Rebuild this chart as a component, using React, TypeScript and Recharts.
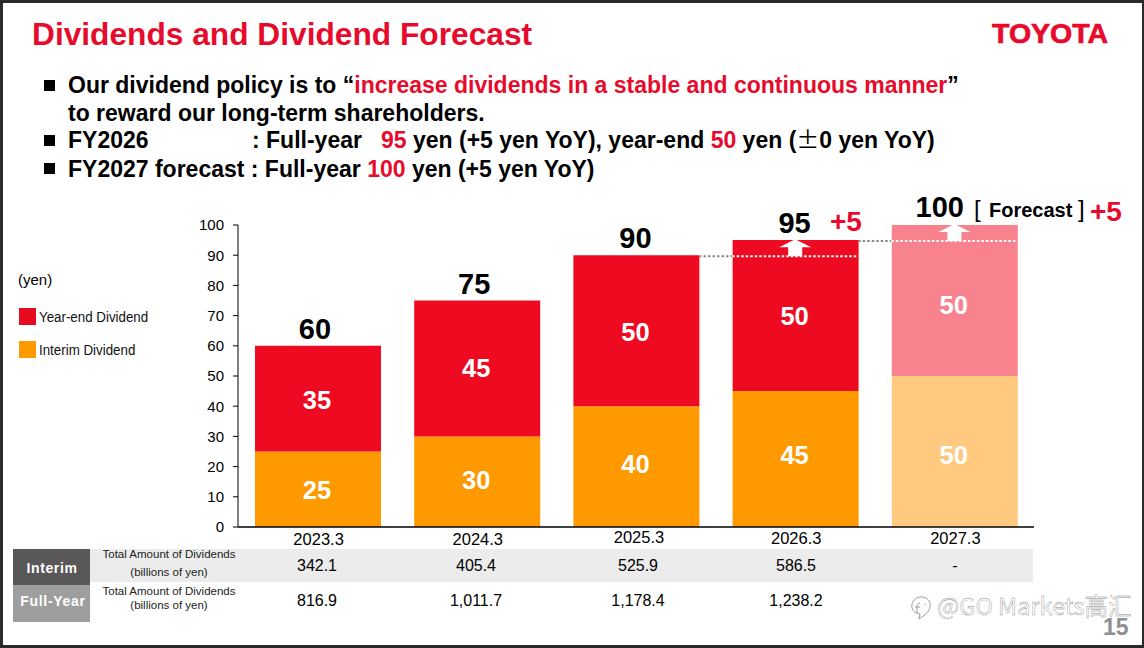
import React from "react";
import { BarChart, Bar, XAxis, YAxis, Cell, LabelList, Legend, ReferenceLine, ReferenceDot } from "recharts";

const categories = ["2023.3", "2024.3", "2025.3", "2026.3", "2027.3"];
const interim = [25, 30, 40, 45, 50];
const yearEnd = [35, 45, 50, 50, 50];
const totals = [60, 75, 90, 95, 100];
const yTicks = [0, 10, 20, 30, 40, 50, 60, 70, 80, 90, 100];
const interimAmounts = ["342.1", "405.4", "525.9", "586.5", "-"];
const fullYearAmounts = ["816.9", "1,011.7", "1,178.4", "1,238.2", ""];

const chartData = categories.map((year, i) => ({
  year,
  interim: interim[i],
  yearEnd: yearEnd[i],
  total: totals[i],
}));

const FONT = "'Liberation Sans', Arial, sans-serif";
const RED = "#EE0A20";
const TEXT_RED = "#E60B2C";
const ORANGE = "#FF9900";
const FORECAST_RED = "#F8838F";
const FORECAST_ORANGE = "#FFCA80";
const HALF_BAR = 63;

// the slide's labels were placed by hand, so they sit a little off the bar centres
const TICK_DX = [1, 1, 3, 1, 1];
const TICK_DY = [0, 0, -2, -1, -1];
const INTERIM_DY = [1, -2, -3, -4, 3];
const YEAR_END_DY = [1, 0, 1, 0, 4];
const TABLE_X = [317, 476, 638, 796, 955];

const Txt = ({ x, y, size, bold, color, center, style, children }: any) => (
  <div
    style={{
      position: "absolute",
      left: x,
      top: y,
      fontSize: size,
      fontWeight: bold ? 700 : 400,
      color: color || "#000",
      lineHeight: 1,
      whiteSpace: "pre",
      transform: center ? "translate(-50%, -50%)" : "translateY(-50%)",
      ...style,
    }}
  >
    {children}
  </div>
);

const Red = ({ children }: any) => <span style={{ color: TEXT_RED }}>{children}</span>;

const Square = ({ y }: any) => (
  <div style={{ position: "absolute", left: 44, top: y, width: 11, height: 11, background: "#000" }} />
);

// grey between the bars, white where it crosses the next bar
const StepLine = ({ x1, y1, x2 }: any) => (
  <g strokeWidth={2} strokeDasharray="2.5 2">
    <line x1={x1 + HALF_BAR} x2={x2 - HALF_BAR} y1={y1 + 1} y2={y1 + 1} stroke="#8c8c8c" />
    <line x1={x2 - HALF_BAR} x2={x2 + HALF_BAR} y1={y1 + 1} y2={y1 + 1} stroke="#fff" />
  </g>
);

const UpArrow = ({ cx, cy }: any) => (
  <path
    d={`M${cx} ${cy - 16} L${cx + 16} ${cy - 8} L${cx + 7} ${cy - 8} L${cx + 7} ${cy + 1} L${cx - 7} ${cy + 1} L${cx - 7} ${cy - 8} L${cx - 16} ${cy - 8} Z`}
    fill="#fff"
  />
);

const YearTick = ({ x, y, payload, index }: any) => (
  <text x={x + TICK_DX[index]} y={y + 10 + TICK_DY[index]} textAnchor="middle" fontSize={16.5} fontFamily={FONT} fill="#000">
    {payload.value}
  </text>
);

const TotalLabel = ({ x, y, width, value, index }: any) => {
  const forecast = index === categories.length - 1;
  return (
    <text
      x={x + width / 2 - (forecast ? 15 : index >= 2 ? 1 : 3)}
      y={y - (forecast ? 8 : 7)}
      textAnchor="middle"
      fontSize={29}
      fontWeight={700}
      fontFamily={FONT}
      fill="#000"
    >
      {value}
    </text>
  );
};

const SegmentLabel = ({ x, y, width, height, value, index, nudge }: any) => (
  <text
    x={x + width / 2 - 1}
    y={y + height / 2 + 9 + nudge[index]}
    textAnchor="middle"
    fontSize={25.5}
    fontWeight={700}
    fontFamily={FONT}
    fill="#fff"
  >
    {value}
  </text>
);

const LegendBox = () => (
  <div style={{ fontFamily: FONT, fontSize: 15.5, color: "#111" }}>
    {[
      { name: "Year-end Dividend", color: "#E60B21" },
      { name: "Interim Dividend", color: ORANGE },
    ].map((item) => (
      <div key={item.name} style={{ display: "flex", alignItems: "center", height: 33 }}>
        <span style={{ width: 17, height: 17, background: item.color, marginRight: 3 }} />
        <span style={{ display: "inline-block", transform: "scaleX(0.86)", transformOrigin: "left" }}>{item.name}</span>
      </div>
    ))}
  </div>
);

export default function App() {
  return (
    <div style={{ position: "absolute", left: 0, top: 0, width: 1144, height: 648, background: "#fff", overflow: "hidden", fontFamily: FONT }}>
      {/* table bands sit under the chart */}
      <div style={{ position: "absolute", left: 90, top: 549, width: 943, height: 33, background: "#ECECEC" }} />
      <div style={{ position: "absolute", left: 13, top: 549, width: 77, height: 36, background: "#595757" }} />
      <div style={{ position: "absolute", left: 13, top: 585, width: 77, height: 37, background: "#9E9E9E" }} />

      <div style={{ position: "absolute", left: 0, top: 0 }}>
        <BarChart
          width={1144}
          height={648}
          data={chartData}
          margin={{ top: 225, right: 110, bottom: 91, left: 178 }}
        >
          <XAxis
            dataKey="year"
            height={30}
            tickLine={false}
            axisLine={{ stroke: "#000", strokeWidth: 1.5 }}
            tick={<YearTick />}
            interval={0}
          />
          <YAxis
            width={60}
            domain={[0, 100]}
            ticks={yTicks}
            interval={0}
            tickLine={{ stroke: "#000" }}
            tickSize={5}
            axisLine={{ stroke: "#000" }}
            tick={{ fill: "#000", fontSize: 15, fontFamily: FONT }}
            tickMargin={9}
          />
          {/* horizontal + middle + center keeps the legend from eating plot space */}
          <Legend
            layout="horizontal"
            verticalAlign="middle"
            align="center"
            wrapperStyle={{ position: "absolute", left: 19, top: 300, width: 170 }}
            content={<LegendBox />}
          />
          <Bar dataKey="interim" stackId="a" barSize={126} isAnimationActive={false}>
            {chartData.map((d, i) => (
              <Cell key={d.year} fill={i === categories.length - 1 ? FORECAST_ORANGE : ORANGE} />
            ))}
            <LabelList dataKey="interim" content={<SegmentLabel nudge={INTERIM_DY} />} />
          </Bar>
          <Bar dataKey="yearEnd" stackId="a" barSize={126} isAnimationActive={false}>
            {chartData.map((d, i) => (
              <Cell key={d.year} fill={i === categories.length - 1 ? FORECAST_RED : RED} />
            ))}
            <LabelList dataKey="yearEnd" content={<SegmentLabel nudge={YEAR_END_DY} />} />
            <LabelList dataKey="total" content={<TotalLabel />} />
          </Bar>
          <ReferenceLine
            segment={[
              { x: categories[2], y: totals[2] },
              { x: categories[3], y: totals[2] },
            ]}
            shape={<StepLine />}
          />
          <ReferenceLine
            segment={[
              { x: categories[3], y: totals[3] },
              { x: categories[4], y: totals[3] },
            ]}
            shape={<StepLine />}
          />
          <ReferenceDot x={categories[3]} y={totals[2]} shape={<UpArrow />} />
          <ReferenceDot x={categories[4]} y={totals[3]} shape={<UpArrow />} />
        </BarChart>
      </div>

      {/* slide header */}
      <Txt x={32} y={35} size={31.7} bold color={TEXT_RED}>Dividends and Dividend Forecast</Txt>
      <Txt x={992} y={33} size={28.5} bold color={TEXT_RED} style={{ WebkitTextStroke: "0.7px " + TEXT_RED }}>TOYOTA</Txt>

      <Square y={80} />
      <Txt x={68} y={85} size={23} bold>Our dividend policy is to “<Red>increase dividends in a stable and continuous manner</Red>”</Txt>
      <Txt x={68} y={113} size={23} bold>to reward our long-term shareholders.</Txt>
      <Square y={135} />
      <Txt x={68} y={140} size={23} bold>FY2026</Txt>
      <Txt x={252} y={140} size={23} bold>: Full-year</Txt>
      <Txt x={381} y={140} size={23} bold>
        <Red>95</Red> yen (+5 yen YoY), year-end <Red>50</Red> yen (
        <span style={{ fontFamily: "'Noto Sans CJK JP'", fontWeight: 400, fontSize: 23, lineHeight: 0 }}>±</span>0 yen YoY)
      </Txt>
      <Square y={163} />
      <Txt x={68} y={169} size={23} bold>FY2027 forecast : Full-year <Red>100</Red> yen (+5 yen YoY)</Txt>

      {/* chart annotations */}
      <Txt x={18} y={279} size={15}>(yen)</Txt>
      <Txt x={830} y={222} size={28} bold color={TEXT_RED}>+5</Txt>
      <Txt x={974} y={209} size={24} style={{ fontWeight: 300 }}>[</Txt>
      <Txt x={989} y={210} size={20} bold>Forecast</Txt>
      <Txt x={1078} y={209} size={24} style={{ fontWeight: 300 }}>]</Txt>
      <Txt x={1090} y={212} size={28} bold color={TEXT_RED}>+5</Txt>

      {/* table */}
      <Txt x={52} y={568} size={14} bold color="#fff" center style={{ letterSpacing: 0.6 }}>Interim</Txt>
      <Txt x={53} y={601} size={14} bold color="#fff" center style={{ letterSpacing: 0.7 }}>Full-Year</Txt>
      <Txt x={169} y={555} size={11.5} center color="#222">Total Amount of Dividends</Txt>
      <Txt x={169} y={573} size={11.5} center color="#222">(billions of yen)</Txt>
      <Txt x={169} y={592} size={11.5} center color="#222">Total Amount of Dividends</Txt>
      <Txt x={169} y={606} size={11.5} center color="#222">(billions of yen)</Txt>
      {categories.map((c, i) => (
        <React.Fragment key={c}>
          <Txt x={TABLE_X[i]} y={566} size={16} center>{interimAmounts[i]}</Txt>
          <Txt x={TABLE_X[i]} y={601} size={16} center>{fullYearAmounts[i]}</Txt>
        </React.Fragment>
      ))}

      {/* watermark and page number */}
      <svg width={24} height={28} style={{ position: "absolute", left: 909, top: 594 }}>
        <path d="M12 3 C19 3 22 8 21 13 C20 19 14 22 10 25 L11 20 C5 19 2 15 3 10 C4 6 8 3 12 3 Z M11 9 C9 9 8 11 8 13 L8 19 M6 13 L11 13 M16 10 L16 11" fill="#fff" stroke="#9a9a9a" strokeWidth={1} />
      </svg>
      <Txt x={937} y={606} size={23.5} color="#fff" style={{ WebkitTextStroke: "0.4px #8a8a8a", fontFamily: "'Noto Sans CJK SC', 'Liberation Sans'" }}>@GO Markets高汇</Txt>
      <Txt x={1103} y={627} size={23} bold color="#8f8f8f">15</Txt>

      {/* screenshot frame */}
      <div style={{ position: "absolute", left: 0, top: 0, width: 1144, height: 3, background: "#2b2b2b" }} />
      <div style={{ position: "absolute", left: 0, top: 0, width: 3, height: 648, background: "#2b2b2b" }} />
      <div style={{ position: "absolute", left: 1142, top: 0, width: 2, height: 648, background: "#2b2b2b" }} />
      <div style={{ position: "absolute", left: 0, top: 645, width: 1144, height: 3, background: "#2b2b2b" }} />
    </div>
  );
}
